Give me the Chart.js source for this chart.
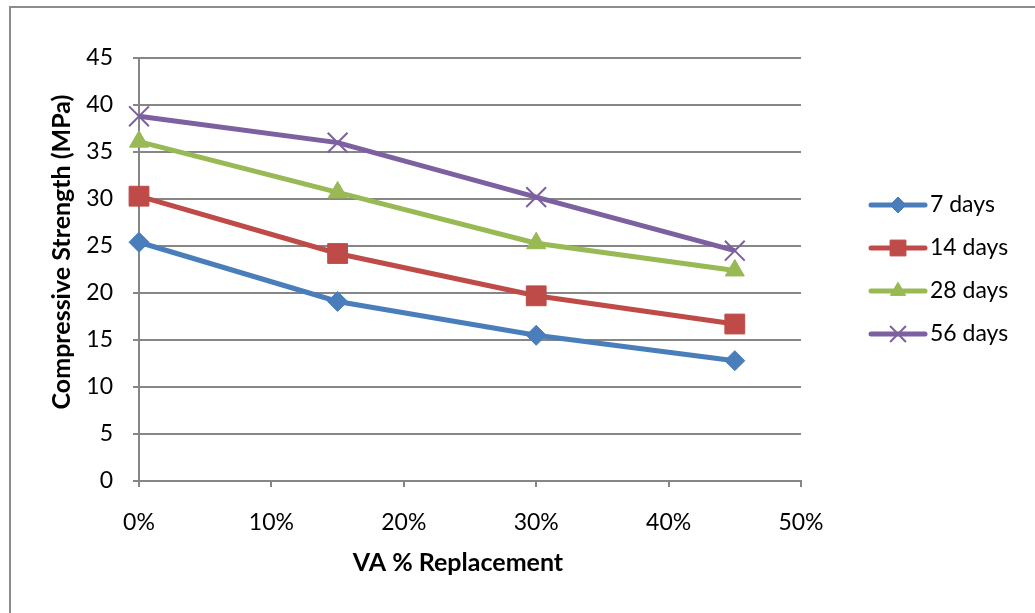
<!DOCTYPE html>
<html>
<head>
<meta charset="utf-8">
<script src="https://cdn.jsdelivr.net/npm/chart.js@4.4.1/dist/chart.umd.min.js"></script>
<style>
  html, body { margin: 0; padding: 0; background: #fff; }
  #wrap { width: 1035px; height: 613px; position: relative; }
</style>
</head>
<body>
<div id="wrap"><canvas id="c" width="1035" height="613"></canvas></div>
<script>
const replacement = [0, 0.15, 0.30, 0.45];
const days7  = [25.4, 19.1, 15.5, 12.8];
const days14 = [30.3, 24.2, 19.7, 16.7];
const days28 = [36.1, 30.7, 25.3, 22.4];
const days56 = [38.8, 36.0, 30.2, 24.5];
const seriesLabels = ['7 days', '14 days', '28 days', '56 days'];
const yTicks = [0, 5, 10, 15, 20, 25, 30, 35, 40, 45];
const xTicks = ['0%', '10%', '20%', '30%', '40%', '50%'];
const xTitle = 'VA % Replacement';
const yTitle = 'Compressive Strength (MPa)';

const FONT = 'Lato, "Open Sans", sans-serif';
const colors = ['#4A7EBB', '#BE4B48', '#98B954', '#7D60A0'];
const styles = [
  { pointStyle: 'rectRot', pointRadius: 10 },
  { pointStyle: 'rect', pointRadius: 14 },
  { pointStyle: 'triangle', pointRadius: 11 },
  { pointStyle: 'crossRot', pointRadius: 14 }
];
const values = [days7, days14, days28, days56];

const datasets = values.map((vals, i) => ({
  label: seriesLabels[i],
  data: vals.map((v, j) => ({ x: replacement[j], y: v })),
  borderColor: colors[i],
  backgroundColor: colors[i],
  borderWidth: 5,
  pointStyle: styles[i].pointStyle,
  pointRadius: styles[i].pointRadius,
  pointHoverRadius: styles[i].pointRadius,
  pointBorderWidth: i === 3 ? 2 : 1,
  pointBorderColor: colors[i],
  pointBackgroundColor: colors[i],
  tension: 0,
  clip: false
}));

const decor = {
  id: 'decor',
  beforeDraw(chart) {
    const ctx = chart.ctx;
    ctx.save();
    ctx.fillStyle = '#fff';
    ctx.fillRect(0, 0, chart.width, chart.height);
    ctx.strokeStyle = '#8c8c8c';
    ctx.lineWidth = 2;
    ctx.strokeRect(10, 7, 1200, 800);
    ctx.restore();
  },
  afterDraw(chart) {
    const ctx = chart.ctx;
    ctx.save();
    ctx.fillStyle = '#000';
    ctx.font = 'bold 25px ' + FONT;
    ctx.textAlign = 'center';
    ctx.textBaseline = 'middle';
    ctx.fillText(xTitle, 458, 563);
    ctx.translate(62, 252);
    ctx.rotate(-Math.PI / 2);
    ctx.fillText(yTitle, 0, 0);
    ctx.restore();

    // legend (line + marker per series)
    ctx.save();
    const lx0 = 871, lx1 = 925, tx = 930, y0 = 205, dy = 43;
    chart.data.datasets.forEach((ds, i) => {
      const y = y0 + i * dy;
      ctx.strokeStyle = ds.borderColor;
      ctx.lineWidth = 5;
      ctx.lineCap = 'round';
      ctx.beginPath();
      ctx.moveTo(lx0, y);
      ctx.lineTo(lx1, y);
      ctx.stroke();
      ctx.fillStyle = ds.borderColor;
      ctx.strokeStyle = ds.borderColor;
      ctx.lineWidth = ds.pointBorderWidth;
      ctx.lineCap = 'butt';
      Chart.helpers.drawPoint(ctx, {
        pointStyle: ds.pointStyle,
        radius: ds.pointRadius * 0.8,
        borderWidth: ds.pointBorderWidth
      }, (lx0 + lx1) / 2, y);
      ctx.fillStyle = '#000';
      ctx.font = '23px ' + FONT;
      ctx.textAlign = 'left';
      ctx.textBaseline = 'middle';
      ctx.fillText(ds.label, tx, y);
    });
    ctx.restore();
  }
};

new Chart(document.getElementById('c'), {
  type: 'line',
  data: { datasets },
  options: {
    responsive: false,
    animation: false,
    devicePixelRatio: 1,
    layout: { padding: { left: 0, right: 234, top: 58, bottom: 0 } },
    plugins: {
      legend: { display: false },
      tooltip: { enabled: false }
    },
    scales: {
      x: {
        type: 'linear',
        min: 0, max: 0.5,
        afterFit(scale) { scale.height = 613 - 481; },
        afterBuildTicks(scale) {
          scale.ticks = xTicks.map((t, i) => ({ value: i * 0.1 }));
        },
        ticks: {
          callback: (v, i) => xTicks[i],
          color: '#000',
          font: { family: FONT, size: 23 },
          padding: 22,
          maxRotation: 0,
          autoSkip: false
        },
        grid: {
          drawOnChartArea: false,
          drawTicks: true,
          tickLength: 6,
          color: '#868686',
          lineWidth: 2
        },
        border: { color: '#868686', width: 2 }
      },
      y: {
        type: 'linear',
        min: 0, max: 45,
        afterFit(scale) { scale.width = 139; },
        afterBuildTicks(scale) {
          scale.ticks = yTicks.map(v => ({ value: v }));
        },
        ticks: {
          color: '#000',
          font: { family: FONT, size: 23 },
          padding: 20,
          autoSkip: false
        },
        grid: {
          color: '#868686',
          lineWidth: 2,
          tickLength: 6
        },
        border: { color: '#868686', width: 2 }
      }
    }
  },
  plugins: [decor]
});
</script>
</body>
</html>
